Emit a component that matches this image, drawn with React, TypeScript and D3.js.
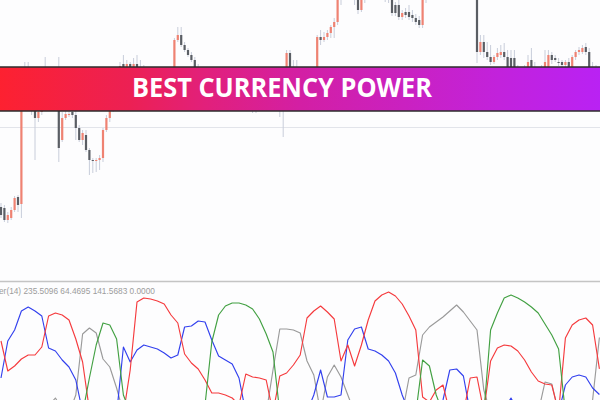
import React from "react";
import * as d3 from "d3";

const W = 600;
const H = 400;

// Price bars (one per period)
const opens = [
  1.0723, 1.0722, 1.0710, 1.0712, 1.0720, 1.0733, 1.0726, 1.0830, 1.0844, 1.0835,
  1.0825, 1.0812, 1.0818, 1.0830, 1.0838, 1.0835, 1.0840, 1.0832, 1.0790, 1.0812,
  1.0815, 1.0818, 1.0815, 1.0802, 1.0790, 1.0795, 1.0780, 1.0770, 1.0769, 1.0770,
  1.0772, 1.0800, 1.0812, 1.0822, 1.0830, 1.0835, 1.0866, 1.0863, 1.0866, 1.0862,
  1.0866, 1.0863, 1.0862, 1.0855, 1.0845, 1.0840, 1.0842, 1.0835, 1.0838, 1.0842,
  1.0845, 1.0850, 1.0890, 1.0895, 1.0885, 1.0880, 1.0875, 1.0870, 1.0863, 1.0855,
  1.0848, 1.0840, 1.0835, 1.0830, 1.0833, 1.0828, 1.0832, 1.0826, 1.0830, 1.0834,
  1.0828, 1.0832, 1.0827, 1.0824, 1.0826, 1.0822, 1.0825, 1.0830, 1.0835, 1.0832,
  1.0830, 1.0828, 1.0830, 1.0826, 1.0830, 1.0877, 1.0860, 1.0855, 1.0858, 1.0850,
  1.0845, 1.0848, 1.0852, 1.0855, 1.0893, 1.0890, 1.0893, 1.0897, 1.0903, 1.0908,
  1.0930, 1.0940, 1.0950, 1.0945, 1.0935, 1.0930, 1.0920, 1.0930, 1.0940, 1.0948,
  1.0942, 1.0950, 1.0945, 1.0938, 1.0932, 1.0935, 1.0925, 1.0925, 1.0913, 1.0918,
  1.0918, 1.0915, 1.0912, 1.0910, 1.0905, 1.0930, 1.0945, 1.0960, 1.0970, 1.0965,
  1.0975, 1.0980, 1.0972, 1.0978, 1.0970, 1.0965, 1.0960, 1.0955, 1.0950, 1.0940,
  1.0935, 1.0878, 1.0888, 1.0878, 1.0873, 1.0868, 1.0873, 1.0875, 1.0878, 1.0873,
  1.0872, 1.0872, 1.0860, 1.0855, 1.0858, 1.0860, 1.0870, 1.0862, 1.0858, 1.0855,
  1.0860, 1.0863, 1.0875, 1.0872, 1.0868, 1.0868, 1.0865, 1.0868, 1.0863, 1.0873,
  1.0878, 1.0878, 1.0883, 1.0878, 1.0863, 1.0858,
];

const highs = [
  1.0727, 1.0725, 1.0718, 1.0723, 1.0734, 1.0735, 1.0835, 1.0868, 1.0868, 1.0850,
  1.0845, 1.0835, 1.0850, 1.0873, 1.0855, 1.0850, 1.0845, 1.0873, 1.0818, 1.0822,
  1.0822, 1.0830, 1.0820, 1.0805, 1.0800, 1.0800, 1.0782, 1.0772, 1.0772, 1.0775,
  1.0802, 1.0815, 1.0830, 1.0835, 1.0845, 1.0868, 1.0875, 1.0870, 1.0868, 1.0872,
  1.0875, 1.0870, 1.0865, 1.0860, 1.0850, 1.0848, 1.0850, 1.0845, 1.0846, 1.0850,
  1.0855, 1.0892, 1.0903, 1.0903, 1.0888, 1.0882, 1.0878, 1.0873, 1.0866, 1.0860,
  1.0852, 1.0845, 1.0840, 1.0838, 1.0838, 1.0836, 1.0835, 1.0834, 1.0838, 1.0836,
  1.0835, 1.0836, 1.0832, 1.0830, 1.0830, 1.0830, 1.0834, 1.0840, 1.0840, 1.0838,
  1.0835, 1.0835, 1.0834, 1.0840, 1.0880, 1.0880, 1.0870, 1.0870, 1.0862, 1.0855,
  1.0854, 1.0858, 1.0860, 1.0895, 1.0900, 1.0898, 1.0900, 1.0905, 1.0912, 1.0935,
  1.0945, 1.0955, 1.0958, 1.0950, 1.0940, 1.0935, 1.0935, 1.0945, 1.0952, 1.0954,
  1.0955, 1.0956, 1.0950, 1.0942, 1.0938, 1.0938, 1.0928, 1.0930, 1.0920, 1.0922,
  1.0925, 1.0920, 1.0916, 1.0914, 1.0935, 1.0950, 1.0965, 1.0975, 1.0978, 1.0980,
  1.0985, 1.0986, 1.0982, 1.0982, 1.0975, 1.0970, 1.0966, 1.0960, 1.0955, 1.0945,
  1.0938, 1.0895, 1.0895, 1.0888, 1.0885, 1.0875, 1.0882, 1.0885, 1.0887, 1.0880,
  1.0880, 1.0880, 1.0865, 1.0862, 1.0865, 1.0875, 1.0882, 1.0868, 1.0862, 1.0865,
  1.0880, 1.0880, 1.0878, 1.0875, 1.0872, 1.0870, 1.0870, 1.0872, 1.0875, 1.0880,
  1.0883, 1.0885, 1.0887, 1.0882, 1.0868, 1.0865,
];

const lows = [
  1.0712, 1.0708, 1.0707, 1.0710, 1.0718, 1.0718, 1.0712, 1.0825, 1.0820, 1.0815,
  1.0770, 1.0808, 1.0815, 1.0825, 1.0830, 1.0830, 1.0825, 1.0768, 1.0788, 1.0810,
  1.0813, 1.0812, 1.0790, 1.0788, 1.0785, 1.0778, 1.0755, 1.0757, 1.0758, 1.0760,
  1.0768, 1.0798, 1.0808, 1.0818, 1.0825, 1.0832, 1.0858, 1.0855, 1.0850, 1.0858,
  1.0855, 1.0852, 1.0845, 1.0840, 1.0835, 1.0835, 1.0830, 1.0830, 1.0834, 1.0838,
  1.0840, 1.0845, 1.0888, 1.0883, 1.0878, 1.0873, 1.0868, 1.0860, 1.0850, 1.0842,
  1.0835, 1.0830, 1.0825, 1.0824, 1.0822, 1.0824, 1.0820, 1.0822, 1.0825, 1.0822,
  1.0824, 1.0822, 1.0820, 1.0820, 1.0817, 1.0817, 1.0822, 1.0826, 1.0826, 1.0825,
  1.0822, 1.0824, 1.0813, 1.0793, 1.0826, 1.0855, 1.0850, 1.0850, 1.0845, 1.0840,
  1.0842, 1.0844, 1.0848, 1.0850, 1.0885, 1.0888, 1.0890, 1.0892, 1.0892, 1.0905,
  1.0925, 1.0935, 1.0940, 1.0930, 1.0925, 1.0916, 1.0918, 1.0927, 1.0935, 1.0938,
  1.0938, 1.0940, 1.0933, 1.0928, 1.0927, 1.0914, 1.0914, 1.0910, 1.0910, 1.0912,
  1.0910, 1.0908, 1.0905, 1.0902, 1.0902, 1.0927, 1.0940, 1.0955, 1.0960, 1.0960,
  1.0970, 1.0968, 1.0968, 1.0965, 1.0960, 1.0955, 1.0950, 1.0945, 1.0935, 1.0930,
  1.0867, 1.0875, 1.0872, 1.0870, 1.0865, 1.0866, 1.0870, 1.0872, 1.0870, 1.0858,
  1.0855, 1.0855, 1.0850, 1.0850, 1.0852, 1.0858, 1.0858, 1.0852, 1.0850, 1.0852,
  1.0858, 1.0860, 1.0866, 1.0868, 1.0864, 1.0862, 1.0863, 1.0860, 1.0860, 1.0870,
  1.0875, 1.0876, 1.0875, 1.0858, 1.0852, 1.0852,
];

const closes = [
  1.0715, 1.0710, 1.0715, 1.0720, 1.0732, 1.0725, 1.0830, 1.0845, 1.0835, 1.0830,
  1.0812, 1.0818, 1.0830, 1.0838, 1.0835, 1.0840, 1.0832, 1.0782, 1.0812, 1.0816,
  1.0816, 1.0815, 1.0802, 1.0790, 1.0797, 1.0780, 1.0770, 1.0769, 1.0770, 1.0772,
  1.0800, 1.0812, 1.0822, 1.0830, 1.0835, 1.0864, 1.0863, 1.0866, 1.0862, 1.0866,
  1.0863, 1.0862, 1.0855, 1.0845, 1.0840, 1.0842, 1.0835, 1.0838, 1.0842, 1.0845,
  1.0850, 1.0890, 1.0895, 1.0885, 1.0880, 1.0875, 1.0870, 1.0863, 1.0855, 1.0848,
  1.0840, 1.0835, 1.0830, 1.0833, 1.0828, 1.0832, 1.0826, 1.0830, 1.0834, 1.0828,
  1.0832, 1.0827, 1.0824, 1.0826, 1.0822, 1.0825, 1.0830, 1.0835, 1.0832, 1.0830,
  1.0828, 1.0830, 1.0826, 1.0830, 1.0877, 1.0860, 1.0855, 1.0858, 1.0850, 1.0845,
  1.0848, 1.0852, 1.0855, 1.0893, 1.0890, 1.0893, 1.0897, 1.0903, 1.0908, 1.0930,
  1.0940, 1.0950, 1.0945, 1.0935, 1.0930, 1.0920, 1.0930, 1.0940, 1.0948, 1.0942,
  1.0950, 1.0945, 1.0938, 1.0932, 1.0935, 1.0917, 1.0917, 1.0913, 1.0917, 1.0915,
  1.0913, 1.0912, 1.0908, 1.0905, 1.0930, 1.0945, 1.0960, 1.0970, 1.0965, 1.0975,
  1.0980, 1.0972, 1.0978, 1.0970, 1.0965, 1.0960, 1.0955, 1.0950, 1.0940, 1.0935,
  1.0878, 1.0888, 1.0878, 1.0873, 1.0868, 1.0873, 1.0877, 1.0878, 1.0873, 1.0862,
  1.0860, 1.0860, 1.0855, 1.0858, 1.0860, 1.0868, 1.0862, 1.0858, 1.0855, 1.0860,
  1.0868, 1.0875, 1.0870, 1.0870, 1.0868, 1.0865, 1.0868, 1.0863, 1.0873, 1.0878,
  1.0880, 1.0882, 1.0878, 1.0863, 1.0858, 1.0860,
];

// Currency power readings, one every second bar
const powerGray = [
  0, 0, 0, 0, 0, 2, 10, 30, 54, 20,
  8, 63, 246, 264, 249, 171, 147, 84, 10, 6,
  4, 2, 0, 0, 0, 0, 0, 0, 0, 0,
  0, 0, 0, 2, 4, 6, 5, 3, 4, 8,
  138, 261, 261, 258, 249, 165, 123, 10, 117, 153,
  117, 63, 10, 6, 4, 2, 0, 0, 2, 6,
  114, 123, 243, 267, 282, 297, 315, 333, 312, 285,
  258, 78, 8, 4, 2, 0, 0, 2, 4, 10,
  102, 96, 10, 5, 2, 0, 3, 48, 235.5096,
];

const powerBlue = [
  114, 225, 258, 315, 327, 315, 300, 204, 195, 168,
  147, 108, 12, 10, 8, 6, 5, 5, 207, 162,
  198, 213, 207, 201, 189, 174, 183, 267, 270, 285,
  282, 228, 180, 168, 156, 114, 10, 8, 6, 5,
  5, 5, 6, 8, 10, 12, 63, 138, 57, 57,
  63, 228, 261, 267, 201, 195, 183, 165, 129, 63,
  12, 8, 5, 5, 5, 48, 138, 141, 120, 10,
  8, 6, 5, 5, 20, 54, 15, 6, 5, 5,
  5, 6, 10, 93, 117, 123, 117, 84, 64.4695,
];

const powerRed = [
  225, 135, 150, 171, 183, 183, 207, 300, 309, 303,
  288, 231, 162, 18, 10, 6, 5, 5, 5, 138,
  342, 354, 351, 345, 336, 303, 279, 186, 159, 141,
  108, 69, 69, 63, 54, 33, 126, 117, 114, 108,
  10, 120, 129, 153, 183, 294, 315, 330, 312, 291,
  165, 213, 150, 213, 288, 345, 363, 372, 360, 336,
  300, 258, 57, 42, 78, 93, 10, 8, 8, 114,
  117, 15, 165, 204, 213, 210, 195, 168, 132, 105,
  96, 93, 12, 234, 273, 288, 294, 273, 141.5683,
];

const powerGreen = [
  4, 2, 0, 0, 0, 0, 0, 0, 3, 5,
  4, 2, 8, 114, 213, 279, 273, 231, 63, 10,
  5, 3, 2, 0, 0, 0, 0, 2, 4, 6,
  33, 222, 303, 330, 339, 339, 333, 321, 291, 246,
  192, 10, 6, 4, 2, 0, 0, 0, 0, 0,
  0, 0, 0, 0, 2, 4, 6, 5, 3, 2,
  4, 8, 168, 150, 63, 10, 6, 4, 2, 0,
  2, 8, 258, 309, 354, 363, 354, 342, 327, 309,
  276, 243, 201, 10, 5, 2, 0, 0, 0,
];

const indicatorName = "BestCurrencyPower";
const indicatorPeriod = 14;
const bannerTitle = "BEST CURRENCY POWER";

const series = [
  { key: "gray", values: powerGray, color: "#9a9a9a" },
  { key: "blue", values: powerBlue, color: "#3240ee" },
  { key: "red", values: powerRed, color: "#f53a3d" },
  { key: "green", values: powerGreen, color: "#42a042" },
];

export default function App() {
  const n = closes.length;
  const x = d3.scaleLinear().domain([0, n - 1]).range([1, 596]);
  const yPrice = d3.scaleLinear().domain([1.065, 1.093]).range([280, 0]);
  const yPow = d3.scaleLinear().domain([0, 400]).range([416, 416 - 400 / 3]);

  const bodyW = 2.2;
  const bull = "#ef8272";
  const bear = "#5a5e64";
  const wick = "#c8cdda";

  const powerLine = d3
    .line<number>()
    .x((_, j) => x(j * 2))
    .y((v) => yPow(v))
    .curve(d3.curveLinear);

  const fmt = d3.format(".4f");
  const last = (a: number[]) => a[a.length - 1];
  // Visible part of the indicator caption (the window is scrolled to the left)
  const caption = `${indicatorName}(${indicatorPeriod})`.slice(-6) +
    ` ${fmt(last(powerGray))} ${fmt(last(powerBlue))} ${fmt(last(powerRed))} ${fmt(last(powerGreen))}`;

  return (
    <div style={{ position: "fixed", left: 0, top: 0 }}>
      <svg width={W} height={H} style={{ display: "block", background: "#fdfdfe" }}>
        <defs>
          <clipPath id="priceClip">
            <rect x={0} y={0} width={W} height={280} />
          </clipPath>
          <clipPath id="powClip">
            <rect x={0} y={283} width={W} height={H - 283} />
          </clipPath>
          <linearGradient id="bannerGrad" x1="0" x2="1" y1="0" y2="0">
            <stop offset="0" stopColor="#fd2130" />
            <stop offset="0.22" stopColor="#ec2054" />
            <stop offset="0.34" stopColor="#e2207a" />
            <stop offset="0.5" stopColor="#d31fa4" />
            <stop offset="0.67" stopColor="#ca21c0" />
            <stop offset="0.83" stopColor="#c222dc" />
            <stop offset="1" stopColor="#b922f4" />
          </linearGradient>
        </defs>

        {/* price window grid line */}
        <line x1={0} x2={W} y1={127.5} y2={127.5} stroke="#e2e4ea" strokeWidth={1} />

        <g clipPath="url(#priceClip)">
          {closes.map((c, i) => (
            <line
              key={`w${i}`}
              x1={x(i)}
              x2={x(i)}
              y1={yPrice(highs[i])}
              y2={yPrice(lows[i])}
              stroke={wick}
              strokeWidth={1}
            />
          ))}
          {closes.map((c, i) => {
            const o = opens[i];
            const top = yPrice(Math.max(o, c));
            const bot = yPrice(Math.min(o, c));
            return (
              <rect
                key={`b${i}`}
                x={x(i) - bodyW / 2}
                y={top}
                width={bodyW}
                height={Math.max(1, bot - top)}
                fill={c > o ? bull : bear}
              />
            );
          })}
        </g>

        {/* window separator */}
        <line x1={0} x2={W} y1={281.5} y2={281.5} stroke="#c4c4c4" strokeWidth={1.6} />

        <g clipPath="url(#powClip)">
          {series.map((s) => (
            <path
              key={s.key}
              d={powerLine(s.values) || ""}
              fill="none"
              stroke={s.color}
              strokeWidth={1.15}
              strokeLinejoin="round"
            />
          ))}
        </g>

        <text
          x={-1}
          y={294}
          fontFamily="'Liberation Sans', Arial, sans-serif"
          fontSize={8.3}
          fill="#9c9c9c"
        >
          {caption}
        </text>

        {/* title banner */}
        <rect x={-2} y={67} width={W + 4} height={44} fill="url(#bannerGrad)" stroke="#2d2d2d" strokeWidth={1.5} />
        <text
          x={282}
          y={97}
          textAnchor="middle"
          fontFamily="'Open Sans', Lato, sans-serif"
          fontWeight={700}
          fontSize={26}
          fill="#ffffff"
          textLength={300}
          lengthAdjust="spacingAndGlyphs"
        >
          {bannerTitle}
        </text>
      </svg>
    </div>
  );
}
